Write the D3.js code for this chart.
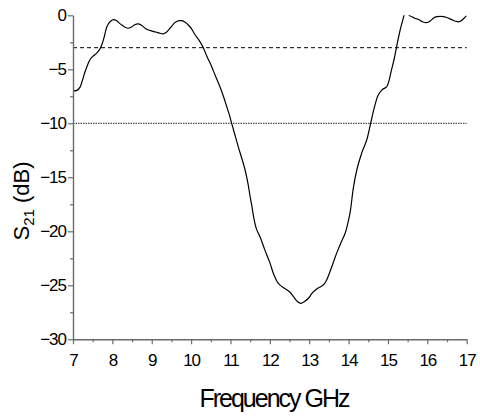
<!DOCTYPE html>
<html><head><meta charset="utf-8">
<script src="https://cdn.jsdelivr.net/npm/d3@7"></script>
<style>
body{margin:0;background:#fff;}
text{font-family:"Liberation Sans",Arial,sans-serif;}
</style></head>
<body><svg id="c" width="480" height="418"></svg>
<script>
const freq = [7.00,7.10,7.18,7.24,7.30,7.38,7.45,7.52,7.60,7.67,7.73,7.80,7.86,7.94,8.03,8.10,8.17,8.24,8.32,8.40,8.48,8.58,8.66,8.75,8.85,8.95,9.10,9.20,9.29,9.38,9.45,9.52,9.60,9.70,9.76,9.85,9.93,10.02,10.10,10.20,10.31,10.40,10.48,10.56,10.64,10.73,10.82,10.90,10.97,11.03,11.10,11.20,11.30,11.37,11.44,11.50,11.54,11.60,11.66,11.75,11.87,12.00,12.10,12.21,12.30,12.38,12.50,12.60,12.70,12.79,12.88,12.98,13.08,13.19,13.30,13.36,13.43,13.49,13.60,13.70,13.80,13.91,14.00,14.05,14.12,14.21,14.33,14.46,14.56,14.65,14.75,14.85,14.97,15.03,15.09,15.16,15.22,15.31,15.38,15.42,15.48,15.54,15.62,15.70,15.77,15.88,15.98,16.08,16.16,16.24,16.35,16.49,16.62,16.72,16.79,16.88,16.95,17.00];
const s21 = [-7.0,-6.95,-6.65,-6.0,-5.3,-4.5,-4.0,-3.75,-3.5,-3.2,-2.75,-1.9,-1.05,-0.6,-0.4,-0.48,-0.7,-0.9,-1.1,-1.2,-1.1,-0.85,-0.8,-0.95,-1.25,-1.4,-1.55,-1.65,-1.72,-1.55,-1.25,-0.95,-0.65,-0.5,-0.5,-0.65,-0.9,-1.3,-1.8,-2.3,-3.0,-3.8,-4.4,-5.1,-5.8,-6.6,-7.5,-8.4,-9.2,-10.0,-10.9,-12.2,-13.4,-14.3,-15.5,-16.8,-17.6,-18.9,-19.8,-20.5,-21.7,-22.9,-24.0,-24.8,-25.1,-25.3,-25.6,-26.05,-26.5,-26.67,-26.5,-26.2,-25.7,-25.35,-25.1,-24.95,-24.6,-24.1,-23.0,-22.0,-21.1,-20.2,-18.95,-18.0,-16.0,-14.3,-12.8,-11.55,-10.0,-8.6,-7.4,-6.9,-6.6,-6.0,-5.06,-4.0,-2.9,-1.36,-0.4,0.1,0.3,0.0,-0.15,-0.3,-0.37,-0.6,-0.68,-0.5,-0.25,-0.13,-0.1,-0.2,-0.4,-0.55,-0.6,-0.45,-0.2,-0.05];
const refLevels = [-3, -10];
const xTicks = [7,8,9,10,11,12,13,14,15,16,17];
const yTicks = [0,-5,-10,-15,-20,-25,-30];
const xMinor = [7.5,8.5,9.5,10.5,11.5,12.5,13.5,14.5,15.5,16.5];
const yMinor = [-2.5,-7.5,-12.5,-17.5,-22.5,-27.5];
const xLabel = "Frequency GHz";

const svg = d3.select("#c");
const L = 73, T = 15.3, W = 393.7, H = 324;
const x = d3.scaleLinear().domain([7,17]).range([L, L+W]);
const y = d3.scaleLinear().domain([0,-30]).range([T, T+H]);
const axisCol = "#6b6b6b";

svg.append("defs").append("clipPath").attr("id","clip")
  .append("rect").attr("x",L).attr("y",T).attr("width",W).attr("height",H);

// reference lines
svg.append("line").attr("x1",x(7)).attr("x2",x(17)).attr("y1",y(refLevels[0])).attr("y2",y(refLevels[0]))
  .attr("stroke","#000").attr("stroke-width",1).attr("stroke-dasharray","4,3");
svg.append("line").attr("x1",x(7)).attr("x2",x(17)).attr("y1",y(refLevels[1])).attr("y2",y(refLevels[1]))
  .attr("stroke","#222").attr("stroke-width",1).attr("stroke-dasharray","1.5,1");

// curve
const data = freq.map((f,i)=>[f,s21[i]]);
svg.append("path").datum(data).attr("clip-path","url(#clip)")
  .attr("fill","none").attr("stroke","#000").attr("stroke-width",1.2)
  .attr("d", d3.line().x(d=>x(d[0])).y(d=>y(d[1])).curve(d3.curveCatmullRom.alpha(0.5)));

// axes
function style(g){
  g.selectAll(".domain").attr("stroke",axisCol).attr("stroke-width",1.4);
  g.selectAll(".tick line").attr("stroke",axisCol).attr("stroke-width",1.2);
  g.selectAll("text").attr("fill","#000").style("font-size","17px").style("letter-spacing","-1px");
}
const gx = svg.append("g").attr("transform",`translate(0,${T+H})`)
  .call(d3.axisBottom(x).tickValues(xTicks).tickSize(5).tickPadding(10).tickFormat(d3.format("d")).tickSizeOuter(0));
style(gx);
const gxm = svg.append("g").attr("transform",`translate(0,${T+H})`)
  .call(d3.axisBottom(x).tickValues(xMinor).tickSize(3).tickFormat(""));
gxm.select(".domain").remove(); style(gxm);

const gy = svg.append("g").attr("transform",`translate(${L},0)`)
  .call(d3.axisLeft(y).tickValues(yTicks).tickSize(5).tickPadding(2).tickFormat(d3.format("d")).tickSizeOuter(0));
style(gy);
const gym = svg.append("g").attr("transform",`translate(${L},0)`)
  .call(d3.axisLeft(y).tickValues(yMinor).tickSize(3).tickFormat(""));
gym.select(".domain").remove(); style(gym);

// titles
svg.append("text").attr("x",274).attr("y",407).attr("text-anchor","middle")
  .style("font-size","25px").style("letter-spacing","-2px").text(xLabel);

const yt = svg.append("text").attr("transform","translate(28.5,201) rotate(-90)")
  .attr("text-anchor","middle").style("font-size","22px");
yt.append("tspan").text("S");
yt.append("tspan").attr("dy",5).style("font-size","15px").text("21");
yt.append("tspan").attr("dy",-5).text(" (dB)");
</script></body></html>
